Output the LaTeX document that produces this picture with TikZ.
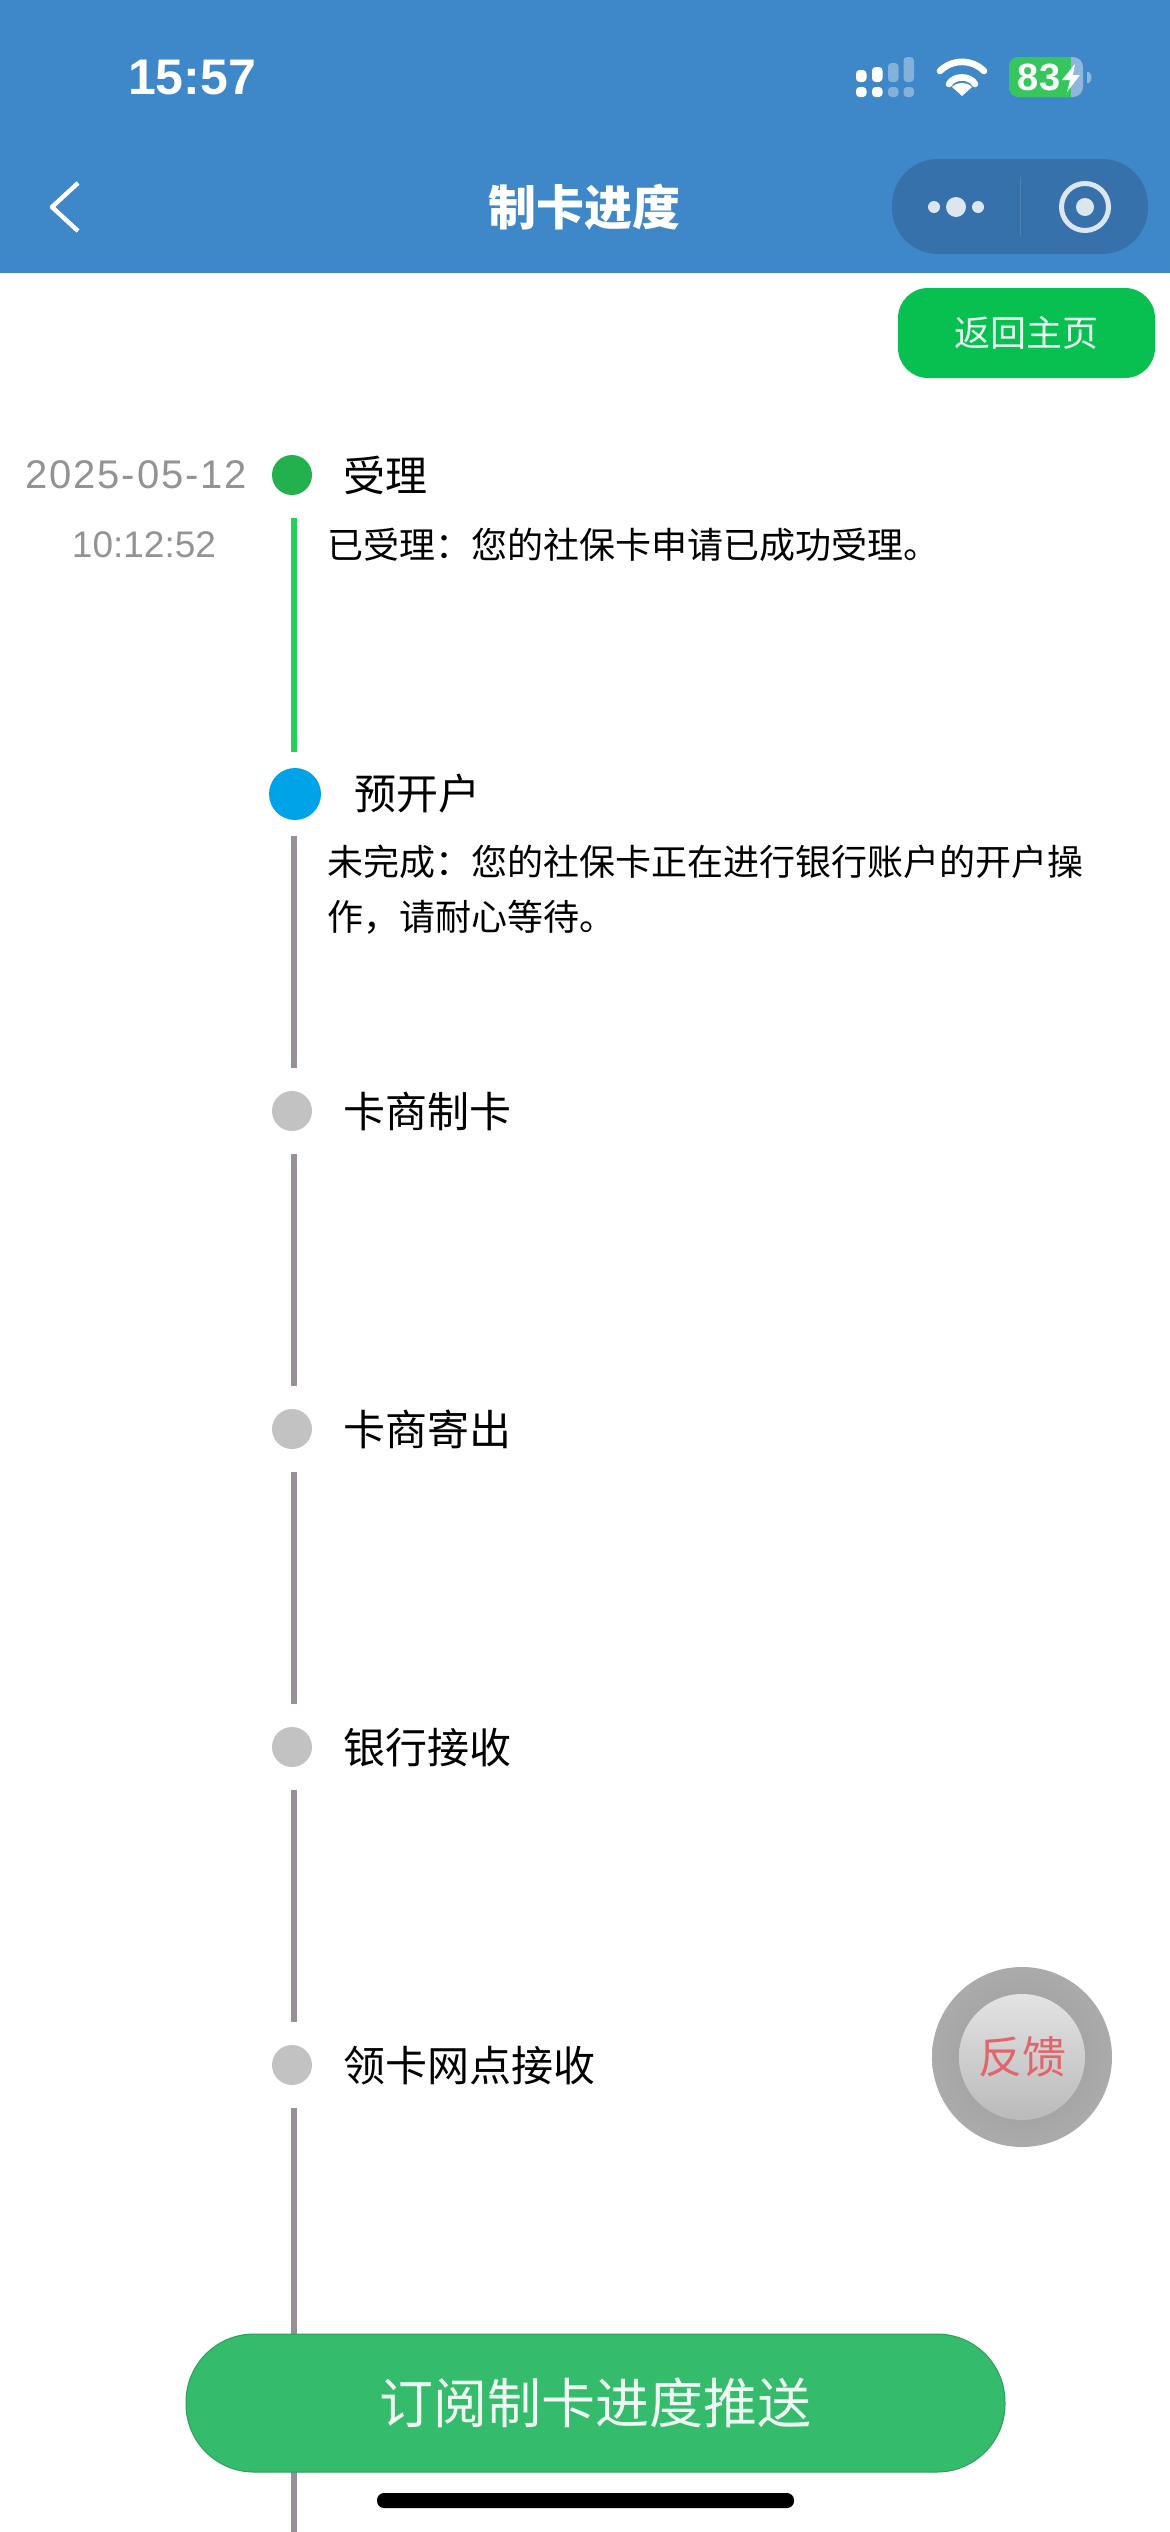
\documentclass[tikz,border=0pt]{standalone}
\usepackage{fontspec}
\setmainfont{Noto Sans CJK SC}
\newfontfamily\latinfont{Liberation Sans}
\newfontfamily\datefont[LetterSpace=4.5]{Liberation Sans}
\definecolor{headerblue}{HTML}{3E87C9}
\definecolor{capsuleblue}{HTML}{3671AC}
\definecolor{iconwhite}{HTML}{DCE6F1}
\definecolor{homegreen}{HTML}{07C050}
\definecolor{subgreen}{HTML}{34BB6B}
\definecolor{doneline}{HTML}{22D05A}
\definecolor{waitline}{HTML}{979197}
\definecolor{batgreen}{HTML}{35C75C}
\definecolor{batfade}{HTML}{8FB6DE}
\definecolor{donedot}{HTML}{22B14C}
\definecolor{nowdot}{HTML}{00A2E8}
\definecolor{feedred}{HTML}{E2656C}
\newcommand{\fsize}[1]{\fontsize{#1}{#1}\selectfont}
\tikzset{
    x=0.5pt, y=-0.5pt,
    dot/.style={circle, inner sep=0pt, draw=none},
    stagelabel/.style={anchor=west, inner sep=0pt, font=\fsize{21}},
    detail/.style={anchor=west, inner sep=0pt, font=\fsize{18}, align=left},
    stamp/.style={inner sep=0pt, text=gray!85},
    doneseg/.style={draw=doneline, line width=3pt},
    waitseg/.style={draw=waitline, line width=3pt},
    signalon/.style={fill=white, rounded corners=1.8pt},
    signaloff/.style={fill=white!35!headerblue, rounded corners=1.8pt},
    wifiarc/.style={line width=3.3pt, white, line cap=round}
}
\begin{document}
\begin{tikzpicture}
    \useasboundingbox (0,0) rectangle (1170,2532);
    \fill[white] (0,0) rectangle (1170,2532);

    % Kopfzeile
    \fill[headerblue] (0,0) rectangle (1170,273);
    \node[inner sep=0pt, text=white, font=\latinfont\bfseries\fsize{25}] (clock) at (192,78) {15:57};

    % Netz-Balken
    \foreach \x/\t in {856/70, 872/67} {
        \fill[signalon] (\x,\t) rectangle ++(10.5,82-\t);
        \fill[signalon] (\x,87) rectangle ++(10.5,10);
    }
    \foreach \x/\t in {888/63, 903.5/57} {
        \fill[signaloff] (\x,\t) rectangle ++(10.5,82-\t);
        \fill[signaloff] (\x,87) rectangle ++(10.5,10);
    }

    % WLAN
    \draw[wifiarc] (940,71) to[bend left=45] (984,71);
    \draw[wifiarc] (949,84) to[bend left=60] (975,84);
    \fill[white] (962,96) -- (952,87) to[bend left=45] (972,87) -- cycle;

    % Akku
    \fill[batfade, rounded corners=5pt] (1009,57) rectangle (1083,97);
    \fill[batfade] (1087,72) -- (1089,72) to[bend left=50] (1089,83) -- (1087,83) -- cycle;
    \begin{scope}
        \clip[rounded corners=5pt] (1009,57) rectangle (1083,97);
        \fill[batgreen] (1009,57) rectangle (1071,97);
    \end{scope}
    \node[inner sep=0pt, text=white, font=\latinfont\bfseries\fsize{19}] (battery) at (1039,77) {83};
    \fill[white] (1075,64) -- (1062,80) -- (1070,80) -- (1067,92) -- (1080,75) -- (1073,75) -- cycle;

    % Titelzeile
    \draw[white, line width=2.2pt, line join=round] (78,183) -- (52,207) -- (78,231);
    \node[inner sep=0pt, text=white, font=\bfseries\fsize{24}] (title) at (584,207) {制卡进度};
    \fill[capsuleblue, rounded corners=23pt] (892,159) rectangle (1148,254);
    \draw[white!12!capsuleblue, line width=0.5pt] (1020,177) -- (1020,236);
    \fill[iconwhite] (934,207) circle (6);
    \fill[iconwhite] (956,207) circle (10);
    \fill[iconwhite] (978,207) circle (6);
    \draw[iconwhite, line width=2.5pt] (1085,207) circle (23.5);
    \fill[iconwhite] (1085,207) circle (9);

    % Knopf oben
    \node[inner sep=0pt, fill=homegreen, rounded corners=15pt, minimum width=128.5pt, minimum height=45pt,
          text=white!92!homegreen, font=\fsize{18}] (homebtn) at (1026.5,333) {返回主页};

    % Punkte der Zeitleiste
    \node[dot, fill=donedot, minimum size=20pt] (d1) at (292,475) {};
    \node[dot, fill=nowdot, minimum size=26pt] (d2) at (295,794) {};
    \foreach \i/\y in {3/1111, 4/1429, 5/1747, 6/2065} {
        \node[dot, fill=black!24, minimum size=20pt] (d\i) at (292,\y) {};
    }

    % Texte
    \node[stamp, anchor=east, font=\datefont\fsize{20}] (date) at (247,475) {2025-05-12};
    \node[stamp, font=\latinfont\fsize{18.5}] (time) at (144,545) {10:12:52};
    \node[stagelabel] (s1) at (343,475) {受理};
    \node[stagelabel] (s2) at (354,794) {预开户};
    \node[stagelabel] (s3) at (343,1111) {卡商制卡};
    \node[stagelabel] (s4) at (343,1429) {卡商寄出};
    \node[stagelabel] (s5) at (343,1748) {银行接收};
    \node[stagelabel] (s6) at (343,2066) {领卡网点接收};
    \node[detail] (t1) at (327,545) {已受理：您的社保卡申请已成功受理。};
    \node[detail, text width=420pt] (t2) at (327,889.5) {未完成：您的社保卡正在进行银行账户的开户操\\[9.5pt]作，请耐心等待。};

    % Verbindungen
    \draw[doneseg, shorten <=11.5pt, shorten >=8pt] ([xshift=1pt]d1.south) -- ([xshift=-0.5pt]d2.north);
    \draw[waitseg, shorten <=8pt, shorten >=11.5pt] ([xshift=-0.5pt]d2.south) -- ([xshift=1pt]d3.north);
    \foreach \a/\b in {d3/d4, d4/d5, d5/d6} {
        \draw[waitseg, shorten <=11.5pt, shorten >=11.5pt] ([xshift=1pt]\a.south) -- ([xshift=1pt]\b.north);
    }
    \coordinate (hiddenend) at (294,2341);
    \coordinate (lowstart) at (294,2425);
    \coordinate (pageend) at (294,2532);
    \draw[waitseg, shorten <=11.5pt] ([xshift=1pt]d6.south) -- (hiddenend);
    \draw[waitseg] (lowstart) -- (pageend);

    % Feedback-Knopf
    \node[dot, minimum size=90pt, inner color=black!40, outer color=black!33] (fbouter) at (1022,2057) {};
    \node[dot, minimum size=63pt, top color=black!11, bottom color=black!27, text=feedred,
          font=\fsize{22}] (feedback) at (fbouter) {反馈};

    % Abo-Knopf
    \node[inner sep=0pt, fill=subgreen, draw=subgreen!85!black, line width=0.5pt, rounded corners=34pt,
          minimum width=409.5pt, minimum height=69pt, text=white!92!subgreen, font=\fsize{27}] (subbtn) at (595.5,2403) {订阅制卡进度推送};

    % Home-Leiste
    \fill[black, rounded corners=3.5pt] (377,2493) rectangle (794,2508);
\end{tikzpicture}
\end{document}
